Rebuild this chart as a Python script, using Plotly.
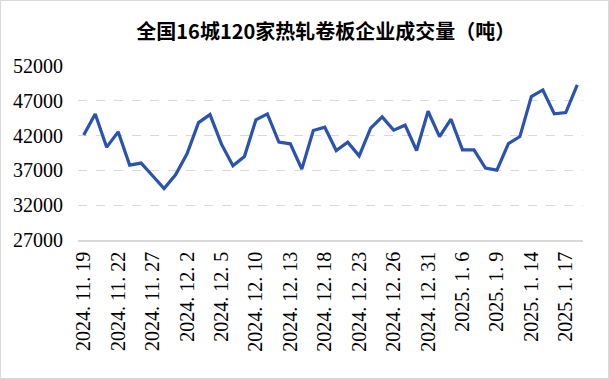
import plotly.graph_objects as go

dates = ["2024.11.19","2024.11.20","2024.11.21","2024.11.22","2024.11.25","2024.11.26","2024.11.27","2024.11.28","2024.11.29",
         "2024.12.2","2024.12.3","2024.12.4","2024.12.5","2024.12.6","2024.12.9","2024.12.10","2024.12.11","2024.12.12","2024.12.13",
         "2024.12.16","2024.12.17","2024.12.18","2024.12.19","2024.12.20","2024.12.23","2024.12.24","2024.12.25","2024.12.26","2024.12.27",
         "2024.12.30","2024.12.31","2025.1.2","2025.1.3","2025.1.6","2025.1.7","2025.1.8","2025.1.9","2025.1.10","2025.1.13",
         "2025.1.14","2025.1.15","2025.1.16","2025.1.17","2025.1.20"]
volume = [42100, 45100, 40340, 42540, 37760, 38050, 36230, 34400, 36370, 39380,
          43870, 45020, 40770, 37660, 39000, 44250, 45120, 41060, 40820, 37180,
          42720, 43210, 39860, 41060, 39090, 43060, 44690, 42780, 43500, 39860,
          45500, 41860, 44350, 39960, 39960, 37330, 37040, 40860, 41860, 47600,
          48560, 45120, 45300, 49280]
tick_dates = dates[::3]
tick_text = [d.replace(".", ". ") for d in tick_dates]
y_ticks = [27000, 32000, 37000, 42000, 47000, 52000]
title = "全国16城120家热轧卷板企业成交量（吨）"

serif = "Liberation Serif"

fig = go.Figure()
fig.add_trace(go.Scatter(x=dates, y=volume, mode="lines",
                         line=dict(color="#2A52B0", width=3.2), hoverinfo="skip"))

fig.update_layout(
    width=609, height=379,
    margin=dict(l=78, r=26, t=66, b=139, autoexpand=False),
    paper_bgcolor="white", plot_bgcolor="white",
    showlegend=False,
    title=dict(text="<b>" + title + "</b>", x=0.535, xanchor="center", y=0.916, yanchor="middle",
               font=dict(family="Noto Sans CJK SC", size=20, color="#000000")),
    xaxis=dict(type="category", tickmode="array", tickvals=tick_dates, ticktext=tick_text,
               tickangle=-90, showgrid=False, showline=True, linecolor="#D9D9D9", linewidth=1.5,
               ticks="", range=[-0.5, len(dates) - 0.5], automargin=False, ticklabelstandoff=2,
               tickfont=dict(family=serif, size=20, color="#000000")),
    yaxis=dict(range=[27000, 52000], tickvals=y_ticks, ticktext=[str(v) for v in y_ticks],
               showgrid=True, gridcolor="#D9D9D9", griddash="dash", gridwidth=1,
               zeroline=False, showline=False, ticks="", ticklabelstandoff=14, automargin=False,
               tickfont=dict(family=serif, size=20, color="#000000")),
    shapes=[dict(type="rect", xref="paper", yref="paper",
                 x0=(0.5 - 78) / 505, x1=(608.5 - 78) / 505,
                 y0=(240 - 378.5) / 174, y1=(240 - 0.5) / 174,
                 line=dict(color="#D9D9D9", width=1), fillcolor="rgba(0,0,0,0)", layer="below")],
)

fig.write_html("out.html", config={"displayModeBar": False},
               post_script="document.body.style.margin='0';document.body.style.overflow='hidden';")
